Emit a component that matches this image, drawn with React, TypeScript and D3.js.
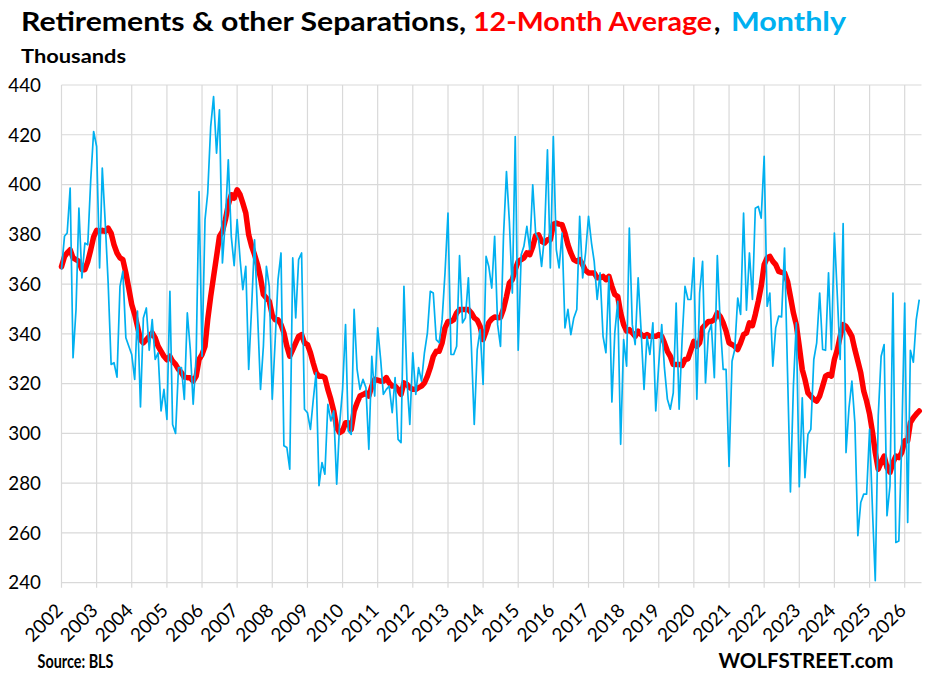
import React from 'react';
import * as d3 from 'd3';

// Monthly data, starting January 2002 (thousands)
const START_YEAR = 2002;

const monthly: number[] = [
  365.8, 379.2, 380.5, 398.6, 330.4, 349.8, 390.5, 362.5, 376.5, 375.8, 401.9, 421.3,
  415.3, 366.5, 406.6, 384.5, 360.5, 327.7, 328.4, 322.6, 359.1, 365.1, 338.4, 335.1,
  331.7, 321.7, 349.1, 310.6, 346.4, 350.4, 333.4, 345.7, 329.7, 332.4, 309.0, 317.7,
  305.6, 357.1, 303.6, 300.0, 326.4, 326.4, 313.7, 348.4, 333.7, 311.7, 331.0, 397.2,
  331.0, 385.9, 396.6, 423.3, 435.3, 412.6, 430.0, 368.5, 385.9, 409.9, 379.2, 367.4,
  385.9, 369.8, 357.8, 367.1, 325.7, 351.1, 377.8, 348.4, 317.7, 335.1, 367.1, 359.1,
  313.7, 337.7, 361.8, 372.5, 295.0, 294.3, 285.6, 370.5, 346.4, 369.8, 372.5, 309.7,
  308.3, 301.6, 313.0, 324.4, 279.0, 288.3, 283.6, 311.7, 305.0, 309.0, 279.6, 303.6,
  317.7, 343.7, 301.0, 299.6, 349.8, 325.7, 317.7, 321.7, 318.4, 293.6, 331.0, 315.0,
  342.4, 329.7, 315.7, 317.7, 319.0, 308.3, 322.4, 297.6, 296.3, 359.1, 321.7, 303.6,
  332.4, 315.7, 326.4, 321.0, 332.4, 340.4, 357.1, 356.4, 337.7, 336.4, 345.7, 364.5,
  388.5, 331.7, 331.7, 335.0, 371.4, 344.4, 346.4, 362.5, 335.0, 303.6, 333.7, 341.7,
  319.7, 371.1, 367.1, 358.4, 379.2, 343.7, 335.0, 379.2, 405.2, 385.2, 356.4, 419.3,
  333.4, 371.8, 375.2, 383.2, 373.8, 399.9, 380.5, 377.8, 367.1, 379.2, 413.9, 366.5,
  419.3, 373.8, 366.5, 380.5, 342.4, 349.8, 339.7, 346.4, 349.8, 387.2, 362.5, 372.5,
  387.2, 376.5, 369.1, 353.8, 364.5, 339.0, 332.4, 363.1, 312.6, 340.4, 353.1, 295.6,
  337.7, 327.0, 382.5, 343.7, 335.7, 362.5, 341.7, 317.7, 339.0, 331.7, 344.4, 309.0,
  327.7, 343.7, 326.4, 313.7, 309.7, 316.3, 352.4, 309.7, 337.7, 359.1, 353.8, 353.8,
  370.5, 313.7, 356.4, 369.1, 320.3, 340.4, 343.7, 322.4, 371.4, 344.4, 325.7, 325.7,
  286.7, 329.0, 333.7, 354.4, 347.8, 388.5, 349.5, 372.5, 353.8, 390.5, 391.2, 386.5,
  411.3, 351.1, 356.4, 327.0, 342.4, 347.1, 346.8, 374.5, 324.4, 276.5, 319.0, 344.4,
  278.6, 314.3, 282.2, 299.6, 301.6, 329.7, 336.4, 356.4, 333.7, 333.4, 364.5, 333.7,
  380.5, 355.0, 329.7, 384.3, 292.3, 310.3, 321.0, 304.3, 258.9, 272.2, 275.6, 275.6,
  301.6, 268.2, 240.8, 307.0, 331.0, 335.7, 266.9, 278.9, 356.4, 256.2, 256.8, 296.3,
  352.4, 264.2, 333.4, 328.6, 345.7, 353.8,
];

const avg12: number[] = [
  367.0, 371.0, 372.5, 373.8, 370.5, 369.8, 369.1, 365.8, 365.8, 369.0, 373.8, 379.0,
  381.6, 381.2, 381.6, 381.2, 382.5, 380.5, 375.8, 372.5, 370.5, 369.8, 364.5, 358.4,
  351.8, 347.8, 343.0, 337.7, 336.4, 337.7, 339.0, 340.4, 338.4, 335.1, 333.0, 331.0,
  329.6, 331.0, 329.0, 327.7, 325.7, 324.4, 322.6, 322.4, 322.4, 321.0, 323.0, 329.7,
  331.7, 335.0, 345.7, 355.0, 363.0, 371.1, 379.2, 381.2, 385.9, 391.9, 395.9, 394.5,
  397.9, 395.9, 392.5, 388.5, 379.8, 375.2, 371.8, 367.8, 362.5, 355.8, 354.4, 353.1,
  347.5, 345.7, 345.7, 343.7, 340.4, 335.0, 331.0, 333.7, 336.4, 339.0, 339.7, 336.4,
  335.7, 332.4, 328.4, 324.4, 323.0, 323.0, 322.4, 317.7, 313.7, 309.0, 302.3, 300.3,
  301.0, 304.3, 304.3, 301.6, 309.0, 312.3, 315.0, 315.6, 316.3, 315.0, 319.0, 321.7,
  321.4, 321.0, 321.0, 322.4, 320.3, 319.0, 319.0, 317.7, 315.7, 320.3, 319.7, 318.4,
  317.7, 317.7, 318.4, 319.0, 320.3, 323.0, 326.4, 330.9, 333.0, 333.0, 336.4, 342.4,
  345.0, 345.0, 345.7, 348.4, 349.8, 349.8, 349.8, 349.8, 348.4, 346.4, 345.5, 343.0,
  337.7, 341.0, 344.5, 346.0, 346.8, 346.5, 346.6, 350.0, 355.0, 360.4, 361.8, 366.0,
  369.1, 369.8, 370.5, 372.5, 371.8, 375.0, 379.5, 379.8, 377.2, 376.5, 377.8, 377.8,
  384.0, 384.5, 384.1, 383.9, 380.5, 375.8, 372.5, 369.8, 369.1, 369.8, 367.8, 365.5,
  364.5, 364.5, 364.5, 362.5, 362.5, 363.1, 361.8, 363.1, 359.1, 355.8, 355.0, 348.4,
  343.7, 341.1, 341.7, 340.4, 339.0, 341.1, 339.7, 339.0, 339.7, 339.0, 339.0, 339.0,
  339.7, 339.0, 336.4, 333.0, 331.0, 327.7, 327.7, 327.7, 327.3, 329.7, 330.0, 333.5,
  337.0, 335.0, 336.4, 342.4, 343.7, 345.0, 345.0, 345.7, 348.4, 347.0, 344.4, 341.1,
  336.4, 335.7, 335.0, 333.7, 336.4, 339.7, 340.4, 344.4, 343.3, 347.8, 353.1, 359.1,
  367.8, 370.5, 371.1, 369.1, 367.8, 365.1, 364.7, 364.5, 361.1, 355.0, 348.4, 343.7,
  335.0, 325.7, 321.7, 316.3, 315.0, 313.7, 313.0, 315.0, 319.0, 323.0, 323.7, 323.0,
  329.7, 333.7, 339.0, 343.7, 343.0, 341.1, 339.0, 333.7, 329.0, 324.4, 317.0, 313.0,
  307.7, 300.3, 292.3, 285.6, 288.3, 290.9, 286.3, 284.3, 288.3, 290.9, 290.3, 292.3,
  297.0, 297.0, 304.3, 306.3, 307.7, 309.0,
];

const yTicks = [240, 260, 280, 300, 320, 340, 360, 380, 400, 420, 440];
const yearLabels = [
  '2002', '2003', '2004', '2005', '2006', '2007', '2008', '2009', '2010', '2011', '2012', '2013',
  '2014', '2015', '2016', '2017', '2018', '2019', '2020', '2021', '2022', '2023', '2024', '2025', '2026',
];

const WIDTH = 931;
const HEIGHT = 680;
const FONT = 'Lato, "Open Sans", sans-serif';

const App: React.FC = () => {
  const left = 61.5;
  const right = 921.5;
  const top = 85;
  const bottom = 582.7;

  const dates = monthly.map((_, i) => new Date(START_YEAR, i, 1));

  const x = d3.scaleTime()
    .domain([new Date(START_YEAR, 0, 1), new Date(2026, 0, 1)])
    .range([left, 904.7]);

  const y = d3.scaleLinear()
    .domain([240, 440])
    .range([bottom, top]);

  const line = d3.line<number>()
    .x((_, i) => x(dates[i]))
    .y(d => y(d));

  return (
    <svg
      width={WIDTH}
      height={HEIGHT}
      style={{ position: 'absolute', left: 0, top: 0, background: '#fff' }}
      fontFamily={FONT}
    >
      {/* title */}
      <text x={21} y={30.5} fontSize={27} fontWeight={700} fill="#000" textLength={445} lengthAdjust="spacingAndGlyphs">
        Retirements &amp; other Separations,
      </text>
      <text x={473} y={30.5} fontSize={27} fontWeight={700} fill="#FF0000" textLength={239} lengthAdjust="spacingAndGlyphs">
        12-Month Average
      </text>
      <text x={714} y={30.5} fontSize={27} fontWeight={700} fill="#000">,</text>
      <text x={731} y={30.5} fontSize={27} fontWeight={700} fill="#00B0F0" textLength={115} lengthAdjust="spacingAndGlyphs">
        Monthly
      </text>
      <text x={21} y={62.5} fontSize={19.5} fontWeight={700} fill="#000" textLength={105} lengthAdjust="spacingAndGlyphs">
        Thousands
      </text>

      {/* horizontal grid + y labels */}
      {yTicks.map(t => (
        <g key={t}>
          <line x1={left} x2={right} y1={y(t)} y2={y(t)} stroke="#D9D9D9" strokeWidth={1.2} />
          <text x={41} y={y(t)} dy="0.36em" textAnchor="end" fontSize={18.8} fill="#000">{t}</text>
        </g>
      ))}

      {/* vertical grid + year labels */}
      {yearLabels.map(lbl => {
        const gx = x(new Date(+lbl, 0, 1));
        return (
          <g key={lbl}>
            <line x1={gx} x2={gx} y1={top} y2={bottom + 5} stroke="#D9D9D9" strokeWidth={1.2} />
            <text
              transform={`translate(${gx + 2.5},${bottom + 29}) rotate(-45)`}
              textAnchor="end"
              fontSize={19}
              fill="#000"
            >
              {lbl}
            </text>
          </g>
        );
      })}

      {/* series */}
      <path d={line(avg12) || ''} fill="none" stroke="#FF0000" strokeWidth={5.5} strokeLinejoin="round" strokeLinecap="round" />
      <path d={line(monthly) || ''} fill="none" stroke="#00B0F0" strokeWidth={1.7} strokeLinejoin="round" />

      {/* footer */}
      <text x={37.5} y={668} fontSize={18.5} fontWeight={700} fill="#000" textLength={76} lengthAdjust="spacingAndGlyphs">
        Source: BLS
      </text>
      <text x={718.5} y={668} fontSize={21} fontWeight={700} fill="#000" textLength={175} lengthAdjust="spacingAndGlyphs">
        WOLFSTREET.com
      </text>
    </svg>
  );
};

export default App;
